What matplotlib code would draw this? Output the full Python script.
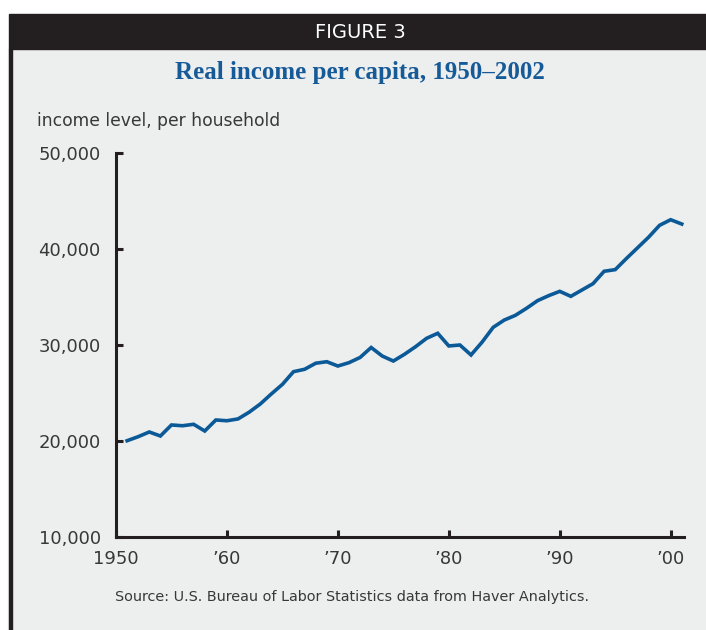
import numpy as np
import matplotlib.pyplot as plt
from matplotlib.patches import Rectangle

plt.switch_backend('Agg')

# Real income per household, annual
years = list(range(1951, 2002))
income = [20030, 20450, 20940, 20520, 21670, 21590, 21740, 21040, 22190, 22110,
          22300, 23000, 23850, 24900, 25900, 27220, 27470, 28100, 28260, 27810,
          28160, 28700, 29740, 28850, 28330, 29030, 29820, 30700, 31220, 29900,
          30000, 28960, 30300, 31840, 32600, 33090, 33820, 34620, 35140, 35590,
          35070, 35730, 36390, 37680, 37850, 39000, 40110, 41220, 42470, 43050,
          42600]

x_ticks = [1950, 1960, 1970, 1980, 1990, 2000]
x_labels = ['1950', '\u201960', '\u201970', '\u201980', '\u201990', '\u201900']
y_ticks = [10000, 20000, 30000, 40000, 50000]
y_labels = ['10,000', '20,000', '30,000', '40,000', '50,000']

W, H = 706, 630
panel_bg = '#edeeee'
dark = '#231f20'
text_col = '#383838'
line_col = '#0b5a97'

fig = plt.figure(figsize=(W / 100, H / 100), dpi=100, facecolor='white')

# panel background, header band and left border
fig.patches.append(Rectangle((8 / W, 0), 1 - 8 / W, 1 - 49 / H,
                             transform=fig.transFigure, color=panel_bg, zorder=0))
fig.patches.append(Rectangle((9 / W, 1 - 49 / H), 1 - 9 / W, 35 / H,
                             transform=fig.transFigure, color=dark, zorder=1))
fig.patches.append(Rectangle((9 / W, 0), 3 / W, 1 - 49 / H,
                             transform=fig.transFigure, color=dark, zorder=1))

fig.text(360 / W, 1 - 32 / H, 'FIGURE 3', color='white', fontsize=14,
         ha='center', va='center')
fig.text(360 / W, 1 - 72 / H, 'Real income per capita, 1950\u20132002',
         family=['Liberation Serif', 'DejaVu Serif'], fontweight='bold',
         fontsize=18, color='#175a98', ha='center', va='center')
fig.text(37 / W, 1 - 121 / H, 'income level, per household', fontsize=12.3,
         color=text_col, ha='left', va='center')
fig.text(352 / W, 1 - 597 / H,
         'Source: U.S. Bureau of Labor Statistics data from Haver Analytics.',
         fontsize=10.4, color=text_col, ha='center', va='center')

ax = fig.add_axes([116 / W, 1 - 537 / H, 568 / W, 384 / H], zorder=3)
ax.set_facecolor('none')
ax.plot(years, income, color=line_col, linewidth=2.6, solid_joinstyle='miter',
        clip_on=False)

ax.set_xlim(1950, 2001.2)
ax.set_ylim(10000, 50000)
ax.set_xticks(x_ticks)
ax.set_xticklabels(x_labels)
ax.set_yticks(y_ticks)
ax.set_yticklabels(y_labels)

for side in ['top', 'right']:
    ax.spines[side].set_visible(False)
for side in ['left', 'bottom']:
    ax.spines[side].set_color(dark)
    ax.spines[side].set_linewidth(2.2)

ax.tick_params(axis='both', direction='in', color=dark, width=2.2,
               length=5, labelsize=13, labelcolor=text_col)
ax.tick_params(axis='x', pad=9)
ax.tick_params(axis='y', pad=11)

fig.savefig('out.png', dpi=100, facecolor='white')
